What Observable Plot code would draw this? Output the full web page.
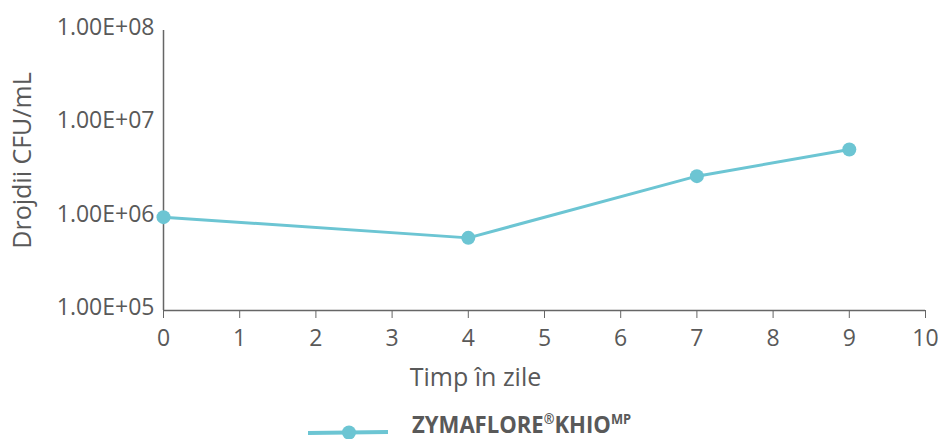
<!DOCTYPE html>
<html>
<head>
<meta charset="utf-8">
<script src="https://cdn.jsdelivr.net/npm/d3@7"></script>
<script src="https://cdn.jsdelivr.net/npm/@observablehq/plot@0.6"></script>
<style>
  body { margin: 0; background: #fff; font-family: "Open Sans", sans-serif; }
  #legend { position: relative; height: 44px; width: 938px; }
  #legend svg { position: absolute; left: 0; top: 0; }
  #legend .lbl { position: absolute; left: 412px; top: 18px; font-weight: bold; font-size: 24px; color: #595959; line-height: 22px; height: 22px; white-space: nowrap; transform: scale(0.92, 1); transform-origin: left center; }
  #legend sup { font-size: 14px; line-height: 0; vertical-align: 0.65em; }
</style>
</head>
<body>
<div id="chart"></div>
<div id="legend">
  <svg width="420" height="44"><line x1="308" x2="388" y1="38" y2="37" stroke="#6cc5d3" stroke-width="4"/><circle cx="349" cy="37.5" r="7" fill="#6cc5d3"/></svg>
  <div class="lbl">ZYMAFLORE<sup>®</sup>KHIO<sup>MP</sup></div>
</div>
<script>
const days = [0, 4, 7, 9];
const cfu = [1.0e6, 6.0e5, 2.75e6, 5.3e6];
const yTicks = [1e5, 1e6, 1e7, 1e8];
const xTicks = [0, 1, 2, 3, 4, 5, 6, 7, 8, 9, 10];
const xLabel = "Timp în zile";
const yLabel = "Drojdii CFU/mL";

const data = days.map((d, i) => ({day: d, value: cfu[i]}));
const color = "#6cc5d3";
const grey = "#595959";
const fmt = v => "1.00E+" + String(Math.round(Math.log10(v))).padStart(2, "0");

const chart = Plot.plot({
  width: 938,
  height: 395,
  marginLeft: 163,
  marginRight: 13,
  marginTop: 30,
  marginBottom: 85,
  style: {fontFamily: "Open Sans, sans-serif", color: grey, background: "#fff"},
  x: {domain: [0, 10]},
  y: {type: "log", domain: [1e5, 1e8]},
  marks: [
    Plot.axisX({ticks: xTicks, tickSize: 8, tickPadding: 11, fontSize: 23, stroke: "#666", color: grey, label: null}),
    Plot.axisY({ticks: yTicks, tickFormat: fmt, tickSize: 0, tickPadding: 9, fontSize: 23, dy: -3, color: grey, label: null}),
    Plot.text([xLabel], {frameAnchor: "bottom", lineAnchor: "middle", dy: 67, dx: -69, fill: grey, fontSize: 25}),
    Plot.text([yLabel], {frameAnchor: "left", textAnchor: "middle", lineAnchor: "middle", rotate: -90, dx: -141, dy: -10, fill: grey, fontSize: 25}),
    Plot.ruleX([0], {stroke: "#666", strokeWidth: 1.5}),
    Plot.ruleY([1e5], {stroke: "#666", strokeWidth: 1.5}),
    Plot.line(data, {x: "day", y: "value", stroke: color, strokeWidth: 3}),
    Plot.dot(data, {x: "day", y: "value", fill: color, r: 7})
  ]
});
document.getElementById("chart").appendChild(chart);
</script>
</body>
</html>
